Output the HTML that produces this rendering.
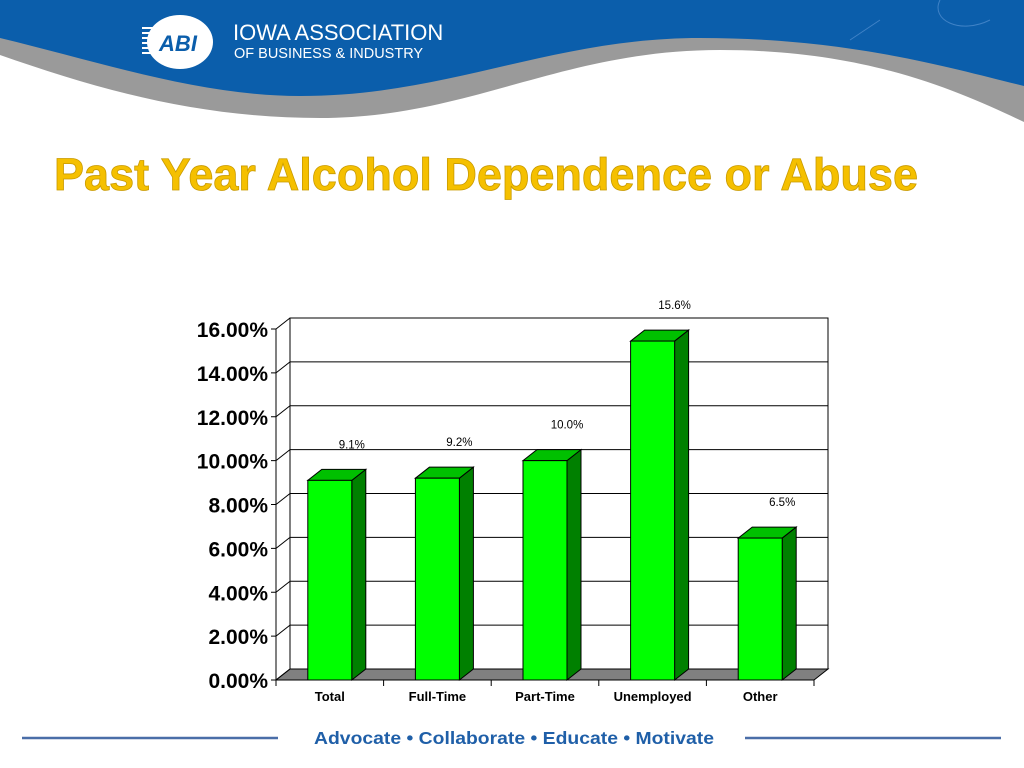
<!DOCTYPE html>
<html><head><meta charset="utf-8"><style>
html,body{margin:0;padding:0;background:#fff;}
#root{position:relative;width:1024px;height:768px;overflow:hidden;font-family:"Liberation Sans",sans-serif;}
</style></head><body>
<div id="root">
<svg width="1024" height="768" viewBox="0 0 1024 768" xmlns="http://www.w3.org/2000/svg">
  <g>
    <path d="M0,0 H1024 V122 C960,92 870,50 720,50 C560,50 470,118 320,118 C200,118 100,90 0,55 Z" fill="#9a9a9a"/>
    <path d="M0,0 H1024 V86 C950,68 850,38 700,38 C550,38 450,96 300,96 C200,96 100,62 0,38 Z" fill="#0b5eab"/>
    <path d="M850,40 L880,20 M940,0 C930,20 960,35 990,20" stroke="#3f82c6" stroke-width="1" fill="none"/>
    <ellipse cx="180" cy="42" rx="33" ry="27" fill="#fff"/>
    <g stroke="#fff" stroke-width="2">
      <line x1="142" y1="28" x2="160" y2="28"/><line x1="142" y1="33" x2="160" y2="33"/>
      <line x1="142" y1="38" x2="160" y2="38"/><line x1="142" y1="43" x2="160" y2="43"/>
      <line x1="142" y1="48" x2="160" y2="48"/><line x1="142" y1="53" x2="160" y2="53"/>
    </g>
    <text x="178" y="51" text-anchor="middle" font-size="22" font-weight="bold" font-style="italic" fill="#0b5eab">ABI</text>
    <text x="233" y="40" font-size="22" fill="#fff">IOWA ASSOCIATION</text>
    <text x="234" y="58" font-size="14.5" fill="#fff">OF BUSINESS &amp; INDUSTRY</text>
  </g>
  <text x="54" y="190" font-size="45" font-weight="bold" fill="#f5c000" stroke="#c99a00" stroke-width="0.8" textLength="864" lengthAdjust="spacingAndGlyphs">Past Year Alcohol Dependence or Abuse</text>
  <g id="chart"></g>
  <g>
    <line x1="22" y1="738" x2="278" y2="738" stroke="#4a6ea8" stroke-width="2.5"/>
    <line x1="745" y1="738" x2="1001" y2="738" stroke="#4a6ea8" stroke-width="2.5"/>
    <text x="314" y="744" font-size="17.5" font-weight="bold" fill="#1f5fa8" textLength="400" lengthAdjust="spacingAndGlyphs">Advocate • Collaborate • Educate • Motivate</text>
  </g>
</svg>
</div>
<script>
const categories = ["Total","Full-Time","Part-Time","Unemployed","Other"];
const values = [9.1, 9.2, 10.0, 15.45, 6.47];
const valueLabels = ["9.1%","9.2%","10.0%","15.6%","6.5%"];
const yTicks = [0,2,4,6,8,10,12,14,16];
const yTickLabels = ["0.00%","2.00%","4.00%","6.00%","8.00%","10.00%","12.00%","14.00%","16.00%"];

const NS="http://www.w3.org/2000/svg";
const g=document.getElementById('chart');
const X0=276, X1=814, Y0=680, YTOP=329, DX=14, DY=-11;
const yMax=16;
function yS(v){return Y0-(v/yMax)*(Y0-YTOP);}
const slot=(X1-X0)/categories.length;
function xC(i){return X0+slot*(i+0.5);}
function mk(tag,attrs,parent){const e=document.createElementNS(NS,tag);for(const k in attrs)e.setAttribute(k,attrs[k]);(parent||g).appendChild(e);return e;}

// back wall
let wall=mk('rect',{x:X0+DX,y:yS(yMax)+DY,width:X1-X0,height:Y0-yS(yMax),fill:'#fff',stroke:'#000','stroke-width':1});


// floor
let floor=mk('polygon',{points:`${X0},${Y0} ${X1},${Y0} ${X1+DX},${Y0+DY} ${X0+DX},${Y0+DY}`,fill:'#808080',stroke:'#000','stroke-width':1});


// gridlines, ticks, labels
yTicks.forEach((t,i)=>{
  const y=yS(t);
  if(t>0){
    let gl=mk('line',{x1:X0+DX,y1:y+DY,x2:X1+DX,y2:y+DY,stroke:'#000','stroke-width':1});
    
    
  }
  let dg=mk('line',{x1:X0,y1:y,x2:X0+DX,y2:y+DY,stroke:'#000','stroke-width':1});
  
  
  let tk=mk('line',{x1:X0-5,y1:y,x2:X0,y2:y,stroke:'#000','stroke-width':1});
  
  
  let lb=mk('text',{x:X0-8,y:y+8,'text-anchor':'end','font-size':21,'font-weight':'bold',fill:'#000'});
  lb.textContent=yTickLabels[i];
  
  
});
// axes
let ya=mk('line',{x1:X0,y1:Y0,x2:X0,y2:YTOP,stroke:'#000','stroke-width':1});


let wl=mk('line',{x1:X0+DX,y1:Y0+DY,x2:X0+DX,y2:YTOP+DY,stroke:'#000','stroke-width':1});


let xa=mk('line',{x1:X0,y1:Y0,x2:X1,y2:Y0,stroke:'#000','stroke-width':1});


for(let i=0;i<=categories.length;i++){
  let t=mk('line',{x1:X0+slot*i,y1:Y0,x2:X0+slot*i,y2:Y0+6,stroke:'#000','stroke-width':1});
  
  
}
// bars
const BW=44;
categories.forEach((c,i)=>{
  const cx=xC(i), l=cx-BW/2, r=cx+BW/2, top=yS(values[i]);
  const bg=mk('g',{});
  
  
  mk('polygon',{points:`${r},${Y0} ${r+DX},${Y0+DY} ${r+DX},${top+DY} ${r},${top}`,fill:'#008000',stroke:'#000','stroke-width':1},bg);
  mk('polygon',{points:`${l},${top} ${r},${top} ${r+DX},${top+DY} ${l+DX},${top+DY}`,fill:'#00c000',stroke:'#000','stroke-width':1},bg);
  mk('rect',{x:l,y:top,width:BW,height:Y0-top,fill:'#00ff00',stroke:'#000','stroke-width':1},bg);
  let vl=mk('text',{x:cx+22,y:top-32,'text-anchor':'middle','font-size':11.5,fill:'#000'});
  vl.textContent=valueLabels[i];
  
  
  let cl=mk('text',{x:cx,y:Y0+21,'text-anchor':'middle','font-size':13,'font-weight':'bold',fill:'#000'});
  cl.textContent=c;
  
  
});
</script>
</body></html>
